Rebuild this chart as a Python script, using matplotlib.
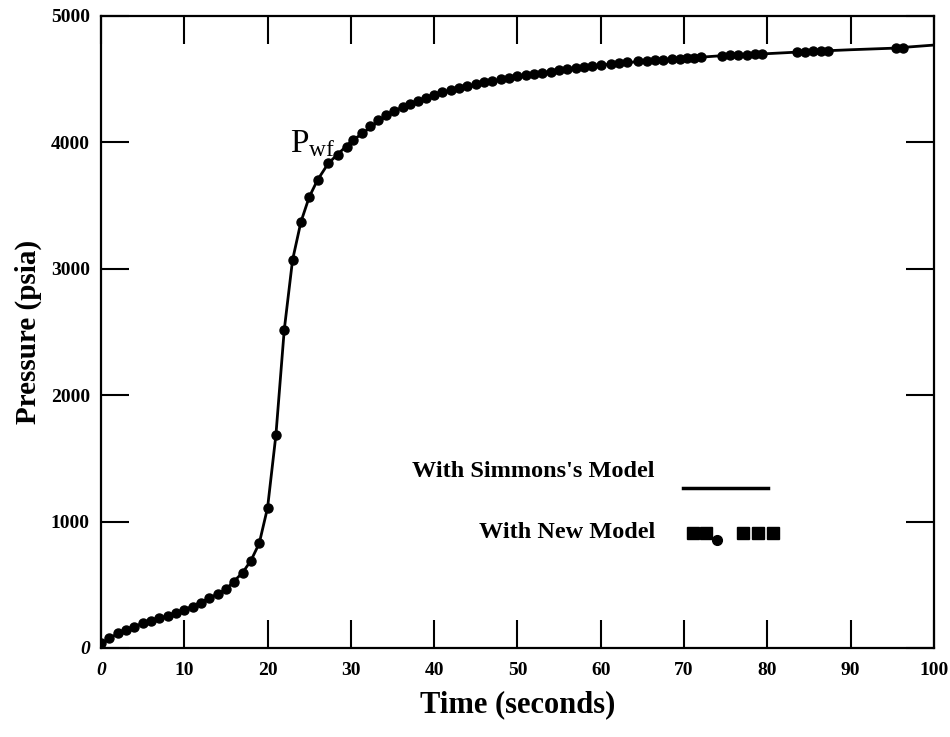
import matplotlib
matplotlib.use('Agg')
import matplotlib.pyplot as plt

# pressure build-up, new model (dots) and Simmons's model (line)
time_s = [0, 1, 2, 3, 4, 5, 6, 7, 8, 9, 10, 11, 12, 13, 14, 15, 16, 17, 18, 19,
          20, 21, 22, 23, 24, 25, 26, 27.3, 28.5, 29.5, 30.3, 31.3, 32.3, 33.2,
          34.2, 35.2, 36.2, 37.1, 38, 39, 40, 41, 42, 43, 44, 45, 46, 47, 48, 49,
          50, 51, 52, 53, 54, 55, 56, 57, 58, 59, 60,
          61.2, 62.2, 63.2, 64.5, 65.5, 66.5, 67.5, 68.5, 69.5, 70.3, 71.2, 72,
          74.5, 75.5, 76.5, 77.5, 78.5, 79.3, 83.5, 84.5, 85.5, 86.5, 87.3,
          95.5, 96.3]
p_new = [37, 77, 116, 142, 169, 195, 216, 235, 253, 275, 301, 327, 359, 393, 427,
         464, 525, 596, 691, 828, 1110, 1685, 2516, 3070, 3370, 3568, 3703, 3835,
         3900, 3965, 4020, 4075, 4130, 4175, 4215, 4250, 4280, 4305, 4330, 4355,
         4378, 4398, 4415, 4430, 4445, 4460, 4475, 4487, 4498, 4510, 4522, 4532,
         4542, 4552, 4560, 4570, 4578, 4587, 4595, 4603, 4612,
         4620, 4628, 4633, 4640, 4645, 4650, 4655, 4660, 4663, 4666, 4670, 4673,
         4685, 4688, 4691, 4694, 4697, 4699, 4715, 4718, 4720, 4723, 4725,
         4745, 4748]

sim_t = [0, 2, 5, 8, 10, 13, 15, 17, 18, 19, 20, 21, 22, 23, 24, 25, 26, 27.3,
         30, 35, 40, 45, 50, 55, 60, 65, 70, 75, 80, 85, 90, 95, 100]
sim_p = [30, 116, 195, 253, 301, 393, 464, 596, 691, 828, 1110, 1685, 2516, 3070,
         3370, 3568, 3703, 3835, 4005, 4245, 4378, 4452, 4522, 4570, 4612, 4642,
         4665, 4688, 4702, 4719, 4733, 4745, 4770]

xticks = [0, 10, 20, 30, 40, 50, 60, 70, 80, 90, 100]
yticks = [0, 1000, 2000, 3000, 4000, 5000]

serif = ['Liberation Serif', 'DejaVu Serif']
plt.rcParams['font.family'] = serif
plt.rcParams['mathtext.default'] = 'regular'

fig = plt.figure(figsize=(9.5, 7.37), dpi=100)
ax = fig.add_axes([0.1063, 0.1208, 0.8768, 0.8575])

ax.plot(sim_t, sim_p, color='black', lw=2.0, zorder=2)
ax.plot(time_s, p_new, 'o', color='black', ms=6.5, zorder=3)

ax.set_xlim(0, 100)
ax.set_ylim(0, 5000)
ax.set_xticks(xticks)
ax.set_yticks(yticks)
ax.set_xticklabels([str(v) for v in xticks], fontsize=14, fontweight='bold')
ax.set_yticklabels([str(v) for v in yticks], fontsize=14, fontweight='bold')
ax.get_xticklabels()[0].set_fontstyle('italic')
ax.get_yticklabels()[0].set_fontstyle('italic')
ax.tick_params(direction='in', length=20, width=1.5, top=True, right=True)
ax.tick_params(axis='x', pad=10)
ax.tick_params(axis='y', pad=8)
for s in ax.spines.values():
    s.set_linewidth(1.6)

ax.set_xlabel('Time (seconds)', fontsize=22, fontweight='bold', labelpad=8)
ax.set_ylabel('Pressure (psia)', fontsize=21, fontweight='bold', labelpad=6)

ax.text(22.7, 3924, r'$P_{wf}$', fontsize=24, ha='left', va='baseline')

# hand-drawn style legend
tr = ax.transAxes
ax.text(0.665, 0.2785, "With Simmons's Model", transform=tr, fontsize=17.5,
        fontweight='bold', ha='right', va='center')
ax.plot([0.699, 0.801], [0.253, 0.253], transform=tr, color='black', lw=2.5)
ax.text(0.665, 0.1835, "With New Model", transform=tr, fontsize=17.5,
        fontweight='bold', ha='right', va='center')
ax.plot([0.711, 0.726, 0.771, 0.789, 0.807], [0.182] * 5, 's', transform=tr,
        color='black', ms=8)
ax.plot([0.739], [0.171], 'o', transform=tr, color='black', ms=7)

fig.savefig('out.png', dpi=100)
